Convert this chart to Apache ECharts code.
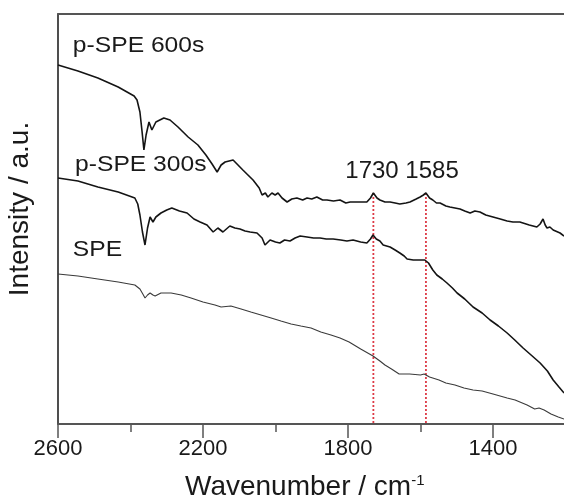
<!DOCTYPE html>
<html>
<head>
<meta charset="utf-8">
<script src="https://cdn.jsdelivr.net/npm/echarts@6/dist/echarts.min.js"></script>
<style>
  html, body { margin: 0; padding: 0; background: #fff; }
  #chart { width: 564px; height: 499px; }
</style>
</head>
<body>
<div id="chart"></div>
<script>
// FTIR spectra of SPE and plasma-treated SPE, offset vertically (arbitrary units)
const wavenumberLabels = [2600, 2200, 1800, 1400];
const wavenumberMinor = [2400, 2000, 1600];
const peakPositions = [1730, 1585];

const pSpe600 = [
  [2600, 359], [2545, 353], [2490, 346], [2434, 337], [2390, 328], [2382, 324],
  [2374, 312], [2368, 292], [2363, 274], [2357, 289], [2349, 302], [2341, 294],
  [2330, 302], [2308, 306], [2291, 304], [2269, 297], [2241, 287], [2214, 279],
  [2192, 269], [2175, 260], [2161, 252], [2150, 259], [2139, 262], [2117, 264],
  [2090, 254], [2062, 244], [2045, 236], [2037, 229], [2028, 231], [2021, 227],
  [2010, 231], [2001, 229], [1993, 231], [1982, 226], [1968, 222], [1955, 225],
  [1941, 226], [1925, 224], [1913, 226], [1900, 225], [1886, 227], [1870, 224],
  [1858, 224], [1840, 223], [1822, 224], [1806, 221], [1794, 222], [1770, 222],
  [1748, 222], [1738, 226], [1730, 231], [1720, 226], [1712, 224], [1698, 222],
  [1684, 222], [1670, 221], [1657, 220], [1640, 221], [1629, 222], [1612, 225],
  [1601, 227], [1592, 229], [1585, 231], [1575, 226], [1566, 224], [1556, 221],
  [1546, 221], [1530, 218], [1519, 217], [1505, 216], [1491, 215], [1478, 213],
  [1463, 211], [1450, 213], [1436, 212], [1420, 209], [1400, 207], [1380, 205],
  [1361, 203], [1345, 202], [1326, 202], [1300, 199], [1279, 197], [1270, 200],
  [1262, 205], [1256, 199], [1251, 196], [1243, 197], [1234, 194], [1215, 191],
  [1204, 188]
];

const pSpe300 = [
  [2600, 246], [2545, 243], [2490, 237], [2434, 232], [2388, 226], [2380, 220],
  [2374, 209], [2367, 192], [2360, 179], [2353, 196], [2346, 207], [2338, 202],
  [2330, 207], [2316, 211], [2300, 214], [2286, 216], [2265, 213], [2244, 211],
  [2225, 205], [2208, 202], [2189, 199], [2172, 192], [2159, 196], [2145, 192],
  [2126, 198], [2112, 196], [2098, 195], [2084, 193], [2070, 192], [2051, 191],
  [2037, 186], [2029, 179], [2015, 184], [2000, 182], [1988, 181], [1975, 184],
  [1960, 183], [1946, 186], [1932, 188], [1913, 187], [1895, 186], [1877, 186],
  [1860, 185], [1841, 185], [1820, 184], [1803, 183], [1786, 184], [1765, 182],
  [1748, 181], [1738, 185], [1731, 189], [1722, 185], [1712, 183], [1703, 179],
  [1684, 177], [1670, 174], [1657, 171], [1645, 168], [1637, 165], [1620, 164],
  [1601, 164], [1588, 164], [1584, 166], [1578, 161], [1566, 154], [1555, 149],
  [1540, 145], [1527, 141], [1512, 136], [1499, 131], [1478, 125], [1455, 117],
  [1430, 111], [1408, 104], [1385, 98], [1361, 91], [1340, 84], [1317, 76],
  [1295, 69], [1270, 61], [1250, 53], [1234, 44], [1218, 37], [1204, 31]
];

const spe = [
  [2600, 150], [2545, 148], [2490, 145], [2434, 142], [2388, 139], [2374, 135],
  [2366, 130], [2360, 126], [2353, 129], [2346, 131], [2338, 129], [2332, 128],
  [2316, 131], [2288, 131], [2260, 129], [2233, 126], [2200, 122], [2167, 119],
  [2150, 117], [2123, 118], [2095, 115], [2068, 112], [2040, 109], [2012, 106],
  [1985, 103], [1957, 100], [1930, 98], [1902, 96], [1875, 92], [1847, 89],
  [1822, 86], [1797, 82], [1765, 75], [1731, 68], [1712, 63], [1698, 59],
  [1680, 55], [1659, 50], [1630, 50], [1600, 49], [1590, 50], [1586, 51],
  [1575, 47], [1549, 44], [1530, 41], [1505, 39], [1480, 36], [1455, 34],
  [1430, 33], [1400, 30], [1361, 26], [1339, 24], [1306, 19], [1285, 15],
  [1273, 16], [1259, 14], [1240, 10], [1220, 7], [1204, 5]
];

const seriesLabels = [
  { text: 'p-SPE 600s', at: [2559, 378] },
  { text: 'p-SPE 300s', at: [2553, 259] },
  { text: 'SPE', at: [2559, 174] }
];
const peakLabel = { text: peakPositions.join(' '), at: [1651, 253] };

const fontFamily = '"Liberation Sans", Arial, Helvetica, sans-serif';

const chart = echarts.init(document.getElementById('chart'), null, { renderer: 'canvas' });

const xBase = {
  type: 'value',
  inverse: true,
  min: 1200,
  max: 2600,
  interval: 200,
  splitLine: { show: false }
};

function peakLine(wn) {
  // dotted guide from the 600 s peak down to the axis
  const top = pSpe600.find(p => p[0] === wn)[1];
  return {
    type: 'line',
    data: [[wn, top], [wn, 0]],
    symbol: 'none',
    silent: true,
    z: 1,
    lineStyle: { color: '#dd3a46', width: 1.8, type: [2, 2] }
  };
}

chart.setOption({
  animation: false,
  backgroundColor: '#fff',
  grid: { left: 58, top: 14, width: 507.5, height: 410, containLabel: false, outerBoundsMode: 'none' },
  xAxis: [
    Object.assign({}, xBase, {
      position: 'bottom',
      name: '{a|Wavenumber / cm}{s|-1}',
      nameLocation: 'middle',
      nameGap: 49,
      nameTextStyle: {
        padding: [0, 14, 0, 0],
        rich: {
          a: { fontFamily, fontSize: 28, color: '#1a1a1a' },
          s: { fontFamily, fontSize: 15, color: '#1a1a1a', verticalAlign: 'top', padding: [0, 0, 12, 0] }
        }
      },
      axisLine: { show: true, lineStyle: { color: '#555', width: 2 } },
      axisTick: { show: true, inside: false, length: 14, customValues: wavenumberLabels, lineStyle: { color: '#555', width: 1.5 } },
      axisLabel: {
        show: true, customValues: wavenumberLabels, margin: 14,
        formatter: v => String(v),
        fontFamily, fontSize: 22, color: '#1a1a1a'
      }
    }),
    Object.assign({}, xBase, {
      position: 'bottom',
      axisLine: { show: false },
      axisTick: { show: true, inside: false, length: 8, customValues: wavenumberMinor, lineStyle: { color: '#555', width: 1.5 } },
      axisLabel: { show: false }
    }),
    Object.assign({}, xBase, {
      position: 'top',
      axisLine: { show: true, lineStyle: { color: '#555', width: 2.2 } },
      axisTick: { show: false },
      axisLabel: { show: false }
    })
  ],
  yAxis: {
    type: 'value',
    min: 0,
    max: 410,
    name: 'Intensity / a.u.',
    nameLocation: 'middle',
    nameRotate: 90,
    nameGap: 24,
    nameTextStyle: { fontFamily, fontSize: 28, color: '#1a1a1a', padding: [0, 0, 0, 20] },
    axisLine: { show: true, lineStyle: { color: '#222', width: 1.6 } },
    axisTick: { show: false },
    axisLabel: { show: false },
    splitLine: { show: false }
  },
  series: [
    peakLine(peakPositions[0]),
    peakLine(peakPositions[1]),
    {
      name: 'p-SPE 600s', type: 'line', data: pSpe600, symbol: 'none', z: 3,
      lineStyle: { color: '#141414', width: 1.6 }
    },
    {
      name: 'p-SPE 300s', type: 'line', data: pSpe300, symbol: 'none', z: 3,
      lineStyle: { color: '#141414', width: 1.6 }
    },
    {
      name: 'SPE', type: 'line', data: spe, symbol: 'none', z: 3,
      lineStyle: { color: '#3a3a3a', width: 1.1 }
    }
  ]
});

// Curve captions, anchored in data coordinates
function captionAt(item, fontSize, align, stretch) {
  const p = chart.convertToPixel({ xAxisIndex: 0, yAxisIndex: 0 }, item.at);
  return {
    type: 'text',
    x: p[0],
    y: p[1],
    scaleX: stretch,
    z: 10,
    style: {
      text: item.text,
      font: fontSize + 'px ' + fontFamily,
      fill: '#1a1a1a',
      textAlign: align,
      textVerticalAlign: 'middle'
    }
  };
}

chart.setOption({
  graphic: seriesLabels.map(l => captionAt(l, 22, 'left', 1.12))
    .concat([captionAt(peakLabel, 24, 'center', 1.0)])
});
</script>
</body>
</html>
